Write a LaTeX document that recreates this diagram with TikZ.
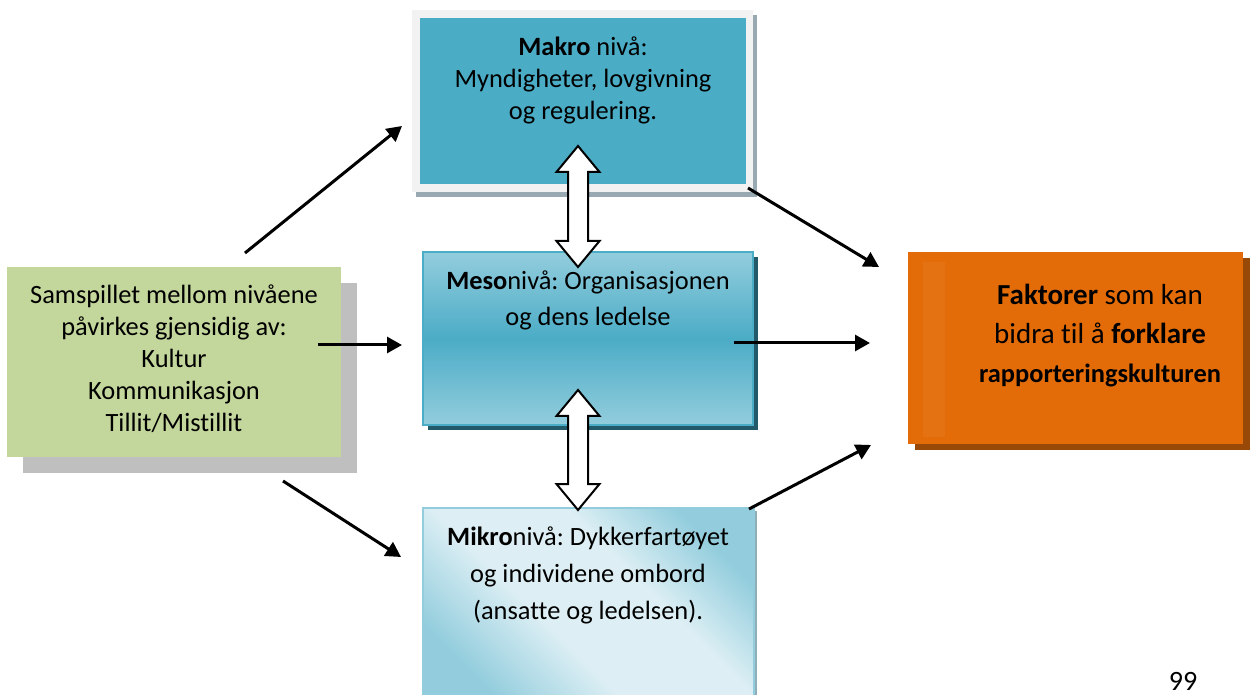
\documentclass[tikz,border=0pt]{standalone}
\usepackage{fontspec}
\setmainfont{Carlito}[Ligatures=NoCommon]
\frenchspacing
\usetikzlibrary{arrows.meta,shadows}

\definecolor{mtealfill}{HTML}{4BACC6}
\definecolor{mteallight}{HTML}{93CDDD}
\definecolor{mtealpale}{HTML}{DDEFF4}
\definecolor{mframe}{HTML}{F2F2F2}
\definecolor{mframeshadow}{HTML}{98A9B2}
\definecolor{mesoshadow}{HTML}{235A69}
\definecolor{mikroshadow}{HTML}{8FAFB8}
\definecolor{orangefill}{HTML}{E36C09}
\definecolor{orangestripe}{HTML}{E47112}
\definecolor{orangeshadow}{HTML}{984807}
\definecolor{greenfill}{HTML}{C3D69B}
\definecolor{greyshadow}{HTML}{BFBFBF}

% diagonal fill of the micro box: blue corners, pale middle band
\pgfdeclareverticalshading{mikrofade}{100bp}{%
  color(0bp)=(mteallight); color(25bp)=(mteallight); color(42bp)=(mtealpale);
  color(60bp)=(mtealpale); color(75bp)=(mteallight); color(100bp)=(mteallight)}

% draws a white up/down block arrow: x, top tip, bottom tip, centre name
\newcommand\blockupdown[4]{%
  \draw[dblarrow] (#1,#2) -- (#1+21.5,#2+26) -- (#1+10,#2+26) -- (#1+10,#3-26)
    -- (#1+21.5,#3-26) -- (#1,#3) -- (#1-21.5,#3-26) -- (#1-10,#3-26)
    -- (#1-10,#2+26) -- (#1-21.5,#2+26) -- cycle;
  \coordinate (#4) at (#1,{(#2+#3)/2});}

\begin{document}
\begin{tikzpicture}[x=0.5pt,y=-0.5pt,
  levelbox/.style={inner sep=0pt, outer sep=0pt},
  lbl/.style={align=center, inner sep=0pt, font=\fontsize{13.2pt}{16pt}\selectfont},
  conn/.style={line width=1.5pt, -{Triangle[length=7.5pt,width=8pt]}},
  dblarrow/.style={draw=black, line width=1pt, fill=white, line join=miter}]
\useasboundingbox (0,0) rectangle (1254,695);
\clip (0,0) rectangle (1254,695);

% macro level: framed box
\node[levelbox, fill=mframe, minimum width=170.5pt, minimum height=91pt,
  drop shadow={shadow xshift=2pt, shadow yshift=-2.5pt, fill=mframeshadow, opacity=1}]
  (makroframe) at (582.5,101) {};
\node[levelbox, fill=mtealfill, minimum width=163pt, minimum height=83pt] (makro) at (583,101) {};
\node[lbl] (makrotxt) at (583,80) {\textbf{Makro} nivå:\\Myndigheter, lovgivning\\og regulering.};

% meso level
\node[levelbox, draw=mtealfill, line width=1pt, minimum width=165pt, minimum height=86.5pt,
  top color=mteallight, bottom color=mteallight, middle color=mtealfill,
  drop shadow={shadow xshift=2.5pt, shadow yshift=-2.5pt, fill=mesoshadow, opacity=1}]
  (meso) at (588,338.5) {};
\node[lbl, font=\fontsize{13.2pt}{18pt}\selectfont] (mesotxt) at (588,300)
  {\textbf{Meso}nivå: Organisasjonen\\og dens ledelse};

% micro level
\node[levelbox, draw=mteallight, line width=0.8pt, minimum width=165.5pt, minimum height=97pt,
  shading=mikrofade, shading angle=-45,
  drop shadow={shadow xshift=1.5pt, shadow yshift=-1.5pt, fill=mikroshadow, opacity=1}]
  (mikro) at (588.5,605) {};
\node[lbl, font=\fontsize{13.2pt}{18.5pt}\selectfont] (mikrotxt) at (588,575)
  {\textbf{Mikro}nivå: Dykkerfartøyet\\og individene ombord\\(ansatte og ledelsen).};

% outcome box
\node[levelbox, fill=orangefill, minimum width=167.5pt, minimum height=96pt,
  drop shadow={shadow xshift=3.5pt, shadow yshift=-3pt, fill=orangeshadow, opacity=1}]
  (faktor) at (1075.5,348) {};
\node[levelbox, fill=orangestripe, minimum width=11pt, minimum height=87.5pt] (stripe) at (934,349.5) {};
\node[lbl, font=\fontsize{14.5pt}{19.5pt}\selectfont] (faktortxt) at (1100,336)
  {\textbf{Faktorer} som kan\\bidra til å \textbf{forklare}\\{\fontsize{13.2pt}{19.5pt}\selectfont\textbf{rapporteringskulturen}}};

% interaction box
\node[levelbox, fill=greenfill, minimum width=167pt, minimum height=95pt,
  drop shadow={shadow xshift=8pt, shadow yshift=-8pt, fill=greyshadow, opacity=1}]
  (samspill) at (174,362) {};
\node[lbl] (samspilltxt) at (174,359)
  {Samspillet mellom nivåene\\påvirkes gjensidig av:\\Kultur\\Kommunikasjon\\Tillit/Mistillit};

% block arrows between the levels
\blockupdown{578}{146}{267}{mm}
\blockupdown{578}{390}{510}{mk}

% connector end points
\coordinate (s1) at (245,253);  \coordinate (e1) at (402,126);
\coordinate (s2) at (318,345);  \coordinate (e2) at (402,345);
\coordinate (s3) at (283,481);  \coordinate (e3) at (401,557);
\coordinate (s4) at (748,188);  \coordinate (e4) at (879,267);
\coordinate (s5) at (734,343);  \coordinate (e5) at (870,343);
\coordinate (s6) at (749,509);  \coordinate (e6) at (871,445);

\draw[conn] (s1) -- (e1);
\draw[conn] (s2) -- (e2);
\draw[conn] (s3) -- (e3);
\draw[conn] (s4) -- (e4);
\draw[conn] (s5) -- (e5);
\draw[conn] (s6) -- (e6);

% page number
\node[anchor=base, inner sep=0pt, font=\fontsize{14pt}{16pt}\selectfont] (pagenum) at (1183,690) {99};
\end{tikzpicture}
\end{document}
